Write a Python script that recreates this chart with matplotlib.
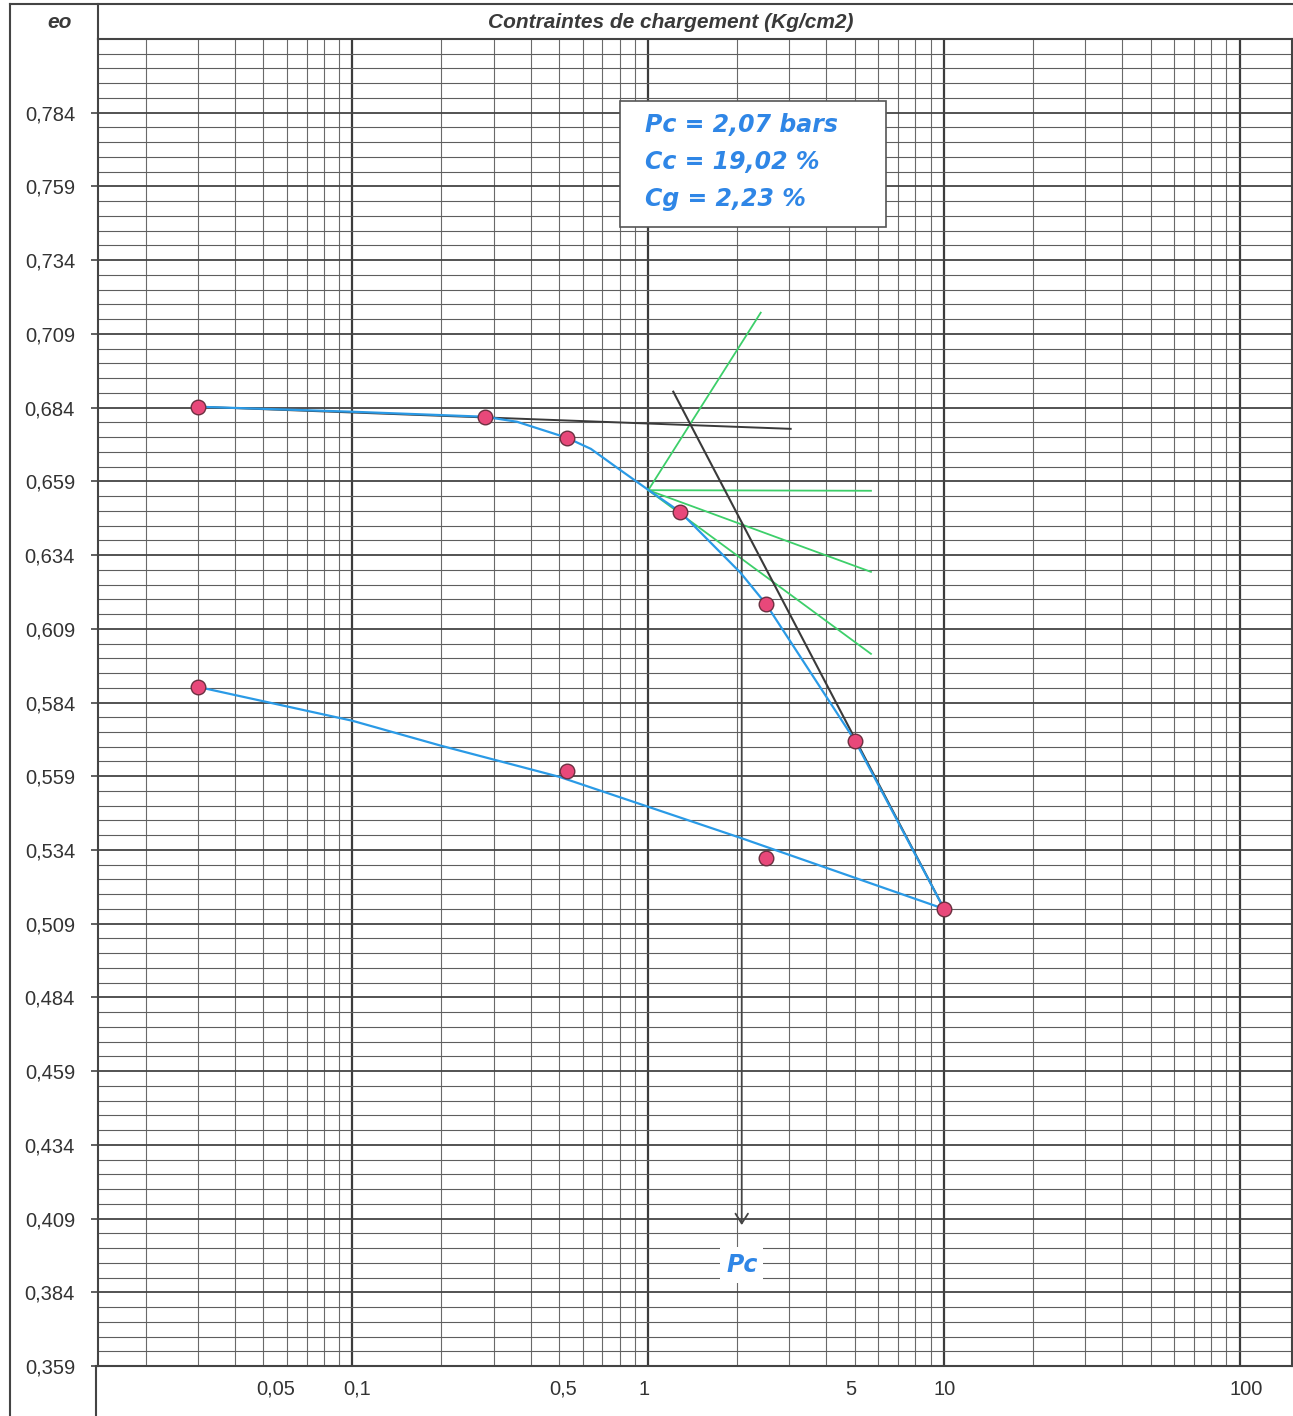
import numpy as np
import matplotlib.pyplot as plt
from matplotlib.patches import Rectangle
from matplotlib.transforms import ScaledTranslation

# essai oedometrique : indice des vides e en fonction de la contrainte (echelle log)
sig_charge = [0.03, 0.28, 0.53, 1.28, 2.5, 5.0, 10.0]
e_charge = [0.6843, 0.6809, 0.6738, 0.6487, 0.6174, 0.5710, 0.5140]
sig_decharge = [2.5, 0.53, 0.03]
e_decharge = [0.5313, 0.5608, 0.5893]

# courbes tracees a la main
courbe_charge_x = [0.03, 0.1, 0.28, 0.36, 0.53, 0.64, 0.8, 1.0, 1.28, 2.05, 2.5, 5.0, 10.0]
courbe_charge_e = [0.6843, 0.6826, 0.6809, 0.6792, 0.6738, 0.6700, 0.6630, 0.6561,
                   0.6487, 0.6280, 0.6174, 0.5710, 0.5140]
courbe_decharge_x = [0.03, 0.1, 0.2, 0.5, 2.05, 10.0]
courbe_decharge_e = [0.5893, 0.5778, 0.5693, 0.5588, 0.5381, 0.5140]

# construction de Casagrande
pt_courbure = (1.0, 0.656)
verts_x = [2.4, 5.66, 5.66, 5.66]
verts_e = [0.7162, 0.6558, 0.6283, 0.6005]
tangente_x = [0.03, 3.03]
tangente_e = [0.6843, 0.6768]
droite_cc_x = [1.215, 10.0]
droite_cc_e = [0.6894, 0.514]
pc = 2.07
pc_e = [0.6445, 0.4068]

y_labels = np.round(np.arange(0.359, 0.7841, 0.025), 3)
x_ticks = [0.05, 0.1, 0.5, 1, 5, 10, 100]
x_labels = ['0,05', '0,1', '0,5', '1', '5', '10', '100']
x_decal = [12, 5, 4, -4, -4, 1, 6]  # decalage des etiquettes en pixels

W, H = 1293, 1416
fig = plt.figure(figsize=(W / 100, H / 100), dpi=100)
fig.patch.set_facecolor('white')

# cadre du tableau (coordonnees en pixels)
ov = fig.add_axes([0, 0, 1, 1], zorder=0)
ov.set_xlim(0, W)
ov.set_ylim(H, 0)
ov.axis('off')
cadre = '#444444'
ov.plot([10, W], [4, 4], color=cadre, lw=1.5)
ov.plot([10, 10], [4, H], color=cadre, lw=1.5)
ov.plot([98, 98], [4, 39], color=cadre, lw=1.5)
ov.plot([96, 96], [1366, H], color=cadre, lw=1.5)
ov.text(60, 22, 'eo', ha='center', va='center', fontsize=15,
        family='Liberation Sans', weight='bold', style='italic', color='#3a3a3a')
ov.text(671, 22, 'Contraintes de chargement (Kg/cm2)', ha='center', va='center',
        fontsize=15, family='Liberation Sans', weight='bold', style='italic',
        color='#3a3a3a')

ax = fig.add_axes([98 / W, (H - 1366) / H, 1194 / W, 1327 / H], zorder=1)
ax.set_facecolor('white')
ax.set_xscale('log')
ax.set_xlim(0.0138, 150)
ax.set_ylim(0.359, 0.809)

# quadrillage du papier semi-log
for d in [0.01, 0.1, 1, 10, 100]:
    for k in range(1, 10):
        v = d * k
        if v < 0.0138 or v > 150:
            continue
        if k == 1:
            ax.axvline(v, color='#3c3c3c', lw=1.6, zorder=1)
        else:
            ax.axvline(v, color='#6a6a6a', lw=0.8, zorder=1)
for v in np.round(np.arange(0.359, 0.809, 0.005), 3):
    major = abs(((v - 0.359) / 0.025) - round((v - 0.359) / 0.025)) < 1e-6
    ax.axhline(v, color='#444444' if major else '#5e5e5e',
               lw=1.3 if major else 0.8, zorder=1)

# construction graphique
for xe, ee in zip(verts_x, verts_e):
    ax.plot([pt_courbure[0], xe], [pt_courbure[1], ee], color='#3dcf6a', lw=1.3, zorder=3)
ax.plot(tangente_x, tangente_e, color='#3a3a3a', lw=1.4, zorder=3)
ax.plot(droite_cc_x, droite_cc_e, color='#3a3a3a', lw=1.5, zorder=3)
ax.annotate('', xy=(pc, pc_e[1]), xytext=(pc, pc_e[0]),
            arrowprops=dict(arrowstyle='->,head_length=0.7,head_width=0.45',
                            color='#444444', lw=1.3, shrinkA=0, shrinkB=0), zorder=3)

# courbes et points de mesure
ax.plot(courbe_charge_x, courbe_charge_e, color='#2a9ae6', lw=1.6, zorder=4)
ax.plot(courbe_decharge_x, courbe_decharge_e, color='#2a9ae6', lw=1.6, zorder=4)
ax.plot(sig_charge, e_charge, 'o', ms=10.5, mfc='#e8487a', mec='#6b3040', mew=1, zorder=5)
ax.plot(sig_decharge, e_decharge, 'o', ms=10.5, mfc='#e8487a', mec='#6b3040', mew=1, zorder=5)

bleu = '#2f86e6'
ax.text(pc, 0.3932, 'Pc', ha='center', va='center', fontsize=17,
        family='DejaVu Sans', weight='bold', style='italic', color=bleu, zorder=6,
        bbox=dict(facecolor='white', edgecolor='none', pad=4))

# encadre des resultats
ax.add_patch(Rectangle((0.4372, 0.8583), 0.2228, 0.095, transform=ax.transAxes,
                       facecolor='white', edgecolor='#555555', lw=1.2, zorder=6))
for yy, s in zip([0.9352, 0.9073, 0.8794],
                 ['Pc = 2,07 bars', 'Cc = 19,02 %', 'Cg = 2,23 %']):
    ax.text(0.458, yy, s, transform=ax.transAxes, ha='left', va='center',
            fontsize=17, family='DejaVu Sans', weight='bold', style='italic',
            color=bleu, zorder=7)

# axes
ax.set_yticks(y_labels)
ax.set_yticklabels([f'{v:.3f}'.replace('.', ',') for v in y_labels],
                   family='Liberation Sans', fontsize=14.5, color='#333333')
ax.set_xticks(x_ticks)
ax.set_xticklabels(x_labels, family='Liberation Sans', fontsize=14.5, color='#333333')
ax.xaxis.set_minor_locator(plt.NullLocator())
ax.tick_params(axis='y', length=5, width=1.2, color='#444444', pad=11.5)
ax.tick_params(axis='x', length=0, pad=10)
for lab, dx in zip(ax.get_xticklabels(), x_decal):
    lab.set_transform(lab.get_transform() + ScaledTranslation(dx / 100, 0, fig.dpi_scale_trans))
for sp in ax.spines.values():
    sp.set_color('#444444')
    sp.set_linewidth(1.5)

fig.savefig('out.png', dpi=100)
